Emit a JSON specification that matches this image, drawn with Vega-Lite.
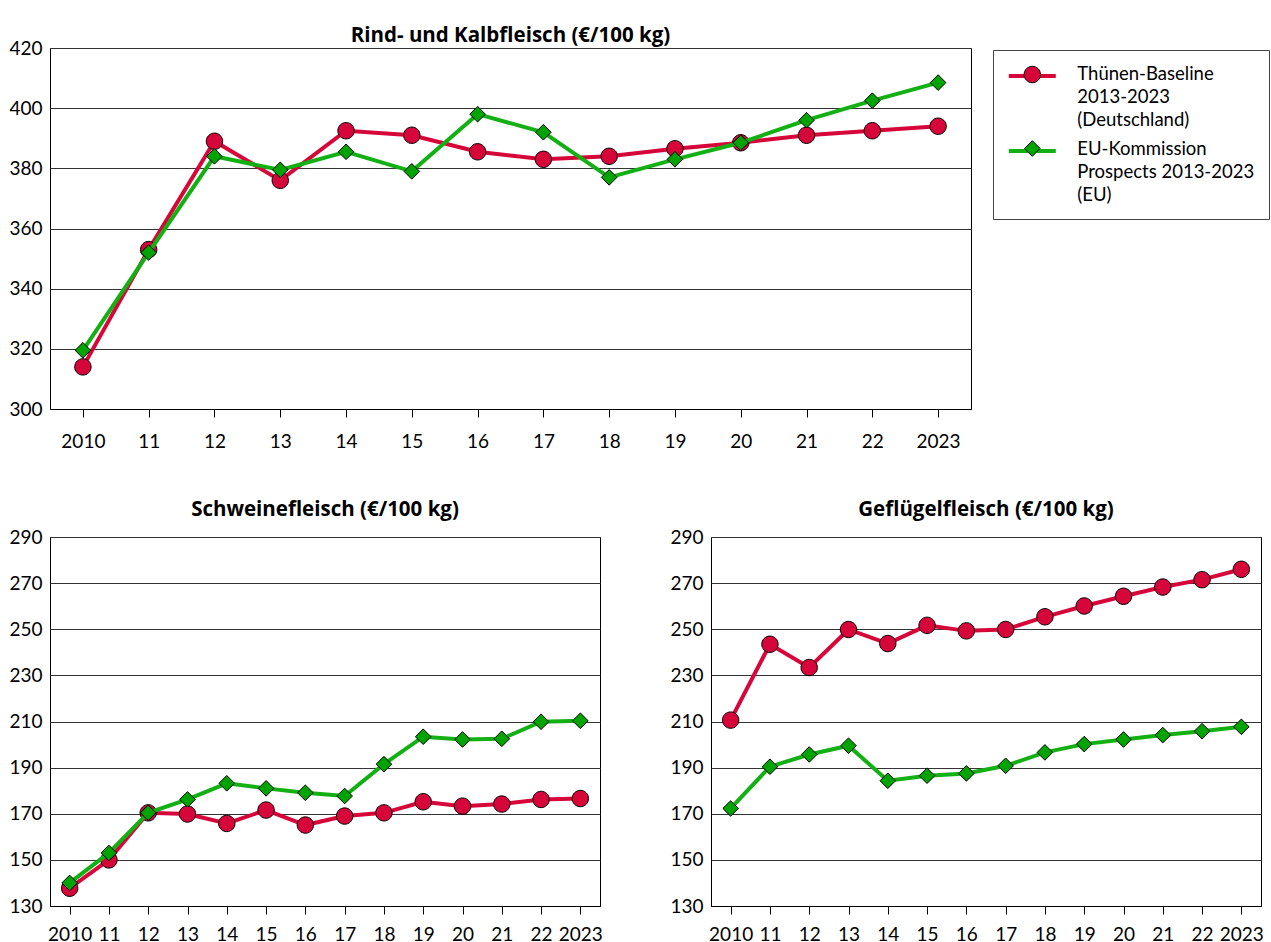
{
  "$schema": "https://vega.github.io/schema/vega-lite/v6.json",
  "background": "white",
  "padding": {"left": 8, "top": 25, "right": 2, "bottom": 0},
  "spacing": 47,
  "resolve": {"scale": {"color": "independent", "shape": "independent", "fill": "independent"}, "legend": {"color": "independent", "shape": "independent", "fill": "independent"}},
  "datasets": {
    "meat": [
      {"c": "Rind", "s": "Thünen", "y": 2010, "v": 314}, {"c": "Rind", "s": "Thünen", "y": 2011, "v": 353}, {"c": "Rind", "s": "Thünen", "y": 2012, "v": 389}, {"c": "Rind", "s": "Thünen", "y": 2013, "v": 376}, {"c": "Rind", "s": "Thünen", "y": 2014, "v": 392.5}, {"c": "Rind", "s": "Thünen", "y": 2015, "v": 391}, {"c": "Rind", "s": "Thünen", "y": 2016, "v": 385.5}, {"c": "Rind", "s": "Thünen", "y": 2017, "v": 383}, {"c": "Rind", "s": "Thünen", "y": 2018, "v": 384}, {"c": "Rind", "s": "Thünen", "y": 2019, "v": 386.5}, {"c": "Rind", "s": "Thünen", "y": 2020, "v": 388.5}, {"c": "Rind", "s": "Thünen", "y": 2021, "v": 391}, {"c": "Rind", "s": "Thünen", "y": 2022, "v": 392.5}, {"c": "Rind", "s": "Thünen", "y": 2023, "v": 394},
      {"c": "Rind", "s": "EU", "y": 2010, "v": 319.5}, {"c": "Rind", "s": "EU", "y": 2011, "v": 352}, {"c": "Rind", "s": "EU", "y": 2012, "v": 384}, {"c": "Rind", "s": "EU", "y": 2013, "v": 379.5}, {"c": "Rind", "s": "EU", "y": 2014, "v": 385.5}, {"c": "Rind", "s": "EU", "y": 2015, "v": 379}, {"c": "Rind", "s": "EU", "y": 2016, "v": 398}, {"c": "Rind", "s": "EU", "y": 2017, "v": 392}, {"c": "Rind", "s": "EU", "y": 2018, "v": 377}, {"c": "Rind", "s": "EU", "y": 2019, "v": 383}, {"c": "Rind", "s": "EU", "y": 2020, "v": 388.5}, {"c": "Rind", "s": "EU", "y": 2021, "v": 396}, {"c": "Rind", "s": "EU", "y": 2022, "v": 402.5}, {"c": "Rind", "s": "EU", "y": 2023, "v": 408.5},
      {"c": "Schwein", "s": "Thünen", "y": 2010, "v": 137.7}, {"c": "Schwein", "s": "Thünen", "y": 2011, "v": 150}, {"c": "Schwein", "s": "Thünen", "y": 2012, "v": 170.4}, {"c": "Schwein", "s": "Thünen", "y": 2013, "v": 169.9}, {"c": "Schwein", "s": "Thünen", "y": 2014, "v": 165.8}, {"c": "Schwein", "s": "Thünen", "y": 2015, "v": 171.6}, {"c": "Schwein", "s": "Thünen", "y": 2016, "v": 165.1}, {"c": "Schwein", "s": "Thünen", "y": 2017, "v": 169}, {"c": "Schwein", "s": "Thünen", "y": 2018, "v": 170.4}, {"c": "Schwein", "s": "Thünen", "y": 2019, "v": 175.2}, {"c": "Schwein", "s": "Thünen", "y": 2020, "v": 173.3}, {"c": "Schwein", "s": "Thünen", "y": 2021, "v": 174.2}, {"c": "Schwein", "s": "Thünen", "y": 2022, "v": 176.2}, {"c": "Schwein", "s": "Thünen", "y": 2023, "v": 176.6},
      {"c": "Schwein", "s": "EU", "y": 2010, "v": 140}, {"c": "Schwein", "s": "EU", "y": 2011, "v": 153}, {"c": "Schwein", "s": "EU", "y": 2012, "v": 170.4}, {"c": "Schwein", "s": "EU", "y": 2013, "v": 176.2}, {"c": "Schwein", "s": "EU", "y": 2014, "v": 183.2}, {"c": "Schwein", "s": "EU", "y": 2015, "v": 181}, {"c": "Schwein", "s": "EU", "y": 2016, "v": 179.1}, {"c": "Schwein", "s": "EU", "y": 2017, "v": 177.7}, {"c": "Schwein", "s": "EU", "y": 2018, "v": 191.5}, {"c": "Schwein", "s": "EU", "y": 2019, "v": 203.4}, {"c": "Schwein", "s": "EU", "y": 2020, "v": 202.2}, {"c": "Schwein", "s": "EU", "y": 2021, "v": 202.5}, {"c": "Schwein", "s": "EU", "y": 2022, "v": 209.9}, {"c": "Schwein", "s": "EU", "y": 2023, "v": 210.3},
      {"c": "Geflügel", "s": "Thünen", "y": 2010, "v": 210.6}, {"c": "Geflügel", "s": "Thünen", "y": 2011, "v": 243.5}, {"c": "Geflügel", "s": "Thünen", "y": 2012, "v": 233.4}, {"c": "Geflügel", "s": "Thünen", "y": 2013, "v": 249.9}, {"c": "Geflügel", "s": "Thünen", "y": 2014, "v": 243.8}, {"c": "Geflügel", "s": "Thünen", "y": 2015, "v": 251.7}, {"c": "Geflügel", "s": "Thünen", "y": 2016, "v": 249.3}, {"c": "Geflügel", "s": "Thünen", "y": 2017, "v": 249.9}, {"c": "Geflügel", "s": "Thünen", "y": 2018, "v": 255.4}, {"c": "Geflügel", "s": "Thünen", "y": 2019, "v": 260.1}, {"c": "Geflügel", "s": "Thünen", "y": 2020, "v": 264.3}, {"c": "Geflügel", "s": "Thünen", "y": 2021, "v": 268.3}, {"c": "Geflügel", "s": "Thünen", "y": 2022, "v": 271.5}, {"c": "Geflügel", "s": "Thünen", "y": 2023, "v": 276},
      {"c": "Geflügel", "s": "EU", "y": 2010, "v": 172.3}, {"c": "Geflügel", "s": "EU", "y": 2011, "v": 190.4}, {"c": "Geflügel", "s": "EU", "y": 2012, "v": 195.7}, {"c": "Geflügel", "s": "EU", "y": 2013, "v": 199.5}, {"c": "Geflügel", "s": "EU", "y": 2014, "v": 184.3}, {"c": "Geflügel", "s": "EU", "y": 2015, "v": 186.5}, {"c": "Geflügel", "s": "EU", "y": 2016, "v": 187.5}, {"c": "Geflügel", "s": "EU", "y": 2017, "v": 190.8}, {"c": "Geflügel", "s": "EU", "y": 2018, "v": 196.6}, {"c": "Geflügel", "s": "EU", "y": 2019, "v": 200.2}, {"c": "Geflügel", "s": "EU", "y": 2020, "v": 202.2}, {"c": "Geflügel", "s": "EU", "y": 2021, "v": 204.1}, {"c": "Geflügel", "s": "EU", "y": 2022, "v": 205.8}, {"c": "Geflügel", "s": "EU", "y": 2023, "v": 207.7}
    ]
  },
  "data": {"name": "meat"},
  "vconcat": [
    {
      "width": 921,
      "height": 361,
      "title": {"text": "Rind- und Kalbfleisch (€/100 kg)", "offset": -7},
      "transform": [{"filter": "datum.c == 'Rind'"}],
      "encoding": {
        "x": {"field": "y", "type": "ordinal", "scale": {"type": "point", "padding": 0.5}, "axis": {"title": null, "labelPadding": 15, "labelExpr": "(datum.value == 2010 || datum.value == 2023) ? datum.label : substring(datum.label, 2)"}},
        "y": {"field": "v", "type": "quantitative", "scale": {"domain": [300, 420], "nice": false, "zero": false}, "axis": {"title": null, "values": [300, 320, 340, 360, 380, 400, 420]}}
      },
      "layer": [
        {
          "transform": [{"filter": "datum.s == 'Thünen'"}],
          "mark": {"type": "line", "strokeWidth": 4},
          "encoding": {"color": {"field": "s", "type": "nominal", "scale": {"domain": ["Thünen", "EU"], "range": ["#D7063A", "#13B013"]},
            "legend": {"orient": "none", "legendX": 943, "legendY": 2, "direction": "vertical", "title": null, "symbolType": "M-2.35,0L2.35,0", "symbolSize": 400, "symbolStrokeWidth": 4, "symbolOffset": 13.3, "labelFontSize": 18.5, "labelColor": "black", "labelLimit": 400, "labelOffset": 33, "rowPadding": 9, "padding": 14, "strokeColor": "#444", "fillColor": "white", "labelBaseline": "top",
              "labelExpr": "datum.value == 'Thünen' ? ['Thünen-Baseline', '2013-2023', '(Deutschland)'] : ['EU-Kommission', 'Prospects 2013-2023', '(EU)']",
              "encode": {"labels": {"update": {"lineHeight": {"value": 23}, "dy": {"value": -11}}}}}}}
        },
        {
          "transform": [{"filter": "datum.s == 'Thünen'"}],
          "mark": {"type": "point", "filled": true, "stroke": "black", "strokeWidth": 1, "size": 400, "opacity": 1},
          "encoding": {
            "fill": {"field": "s", "type": "nominal", "sort": "descending", "scale": {"range": ["#D7063A", "#00A300"]},
              "legend": {"orient": "none", "legendX": 943, "legendY": 2, "direction": "vertical", "title": null, "symbolSize": 400, "symbolStrokeWidth": 1, "symbolOffset": 14.8, "labelFontSize": 1, "labelExpr": "''", "labelOffset": 0, "rowPadding": 53, "padding": 14}},
            "shape": {"field": "s", "type": "nominal", "sort": "descending", "scale": {"range": ["M0.82,0A0.82,0.82,0,1,1,-0.82,0A0.82,0.82,0,1,1,0.82,0Z", "M0,-0.78L0.78,0L0,0.78L-0.78,0Z"]},
              "legend": {"orient": "none", "legendX": 943, "legendY": 2, "direction": "vertical", "title": null, "symbolSize": 400, "symbolStrokeWidth": 1, "symbolOffset": 14.8, "labelFontSize": 1, "labelExpr": "''", "labelOffset": 0, "rowPadding": 53, "padding": 14}}
          }
        },
        {
          "transform": [{"filter": "datum.s == 'EU'"}],
          "mark": {"type": "line", "strokeWidth": 4},
          "encoding": {"color": {"field": "s", "type": "nominal", "scale": {"domain": ["Thünen", "EU"], "range": ["#D7063A", "#13B013"]},
            "legend": {"orient": "none", "legendX": 943, "legendY": 2, "direction": "vertical", "title": null, "symbolType": "M-2.35,0L2.35,0", "symbolSize": 400, "symbolStrokeWidth": 4, "symbolOffset": 13.3, "labelFontSize": 18.5, "labelColor": "black", "labelLimit": 400, "labelOffset": 33, "rowPadding": 9, "padding": 14, "strokeColor": "#444", "fillColor": "white", "labelBaseline": "top",
              "labelExpr": "datum.value == 'Thünen' ? ['Thünen-Baseline', '2013-2023', '(Deutschland)'] : ['EU-Kommission', 'Prospects 2013-2023', '(EU)']",
              "encode": {"labels": {"update": {"lineHeight": {"value": 23}, "dy": {"value": -11}}}}}}}
        },
        {
          "transform": [{"filter": "datum.s == 'EU'"}],
          "mark": {"type": "point", "filled": true, "stroke": "black", "strokeWidth": 1, "size": 400, "opacity": 1},
          "encoding": {
            "fill": {"field": "s", "type": "nominal", "sort": "descending", "scale": {"range": ["#D7063A", "#00A300"]},
              "legend": {"orient": "none", "legendX": 943, "legendY": 2, "direction": "vertical", "title": null, "symbolSize": 400, "symbolStrokeWidth": 1, "symbolOffset": 14.8, "labelFontSize": 1, "labelExpr": "''", "labelOffset": 0, "rowPadding": 53, "padding": 14}},
            "shape": {"field": "s", "type": "nominal", "sort": "descending", "scale": {"range": ["M0.82,0A0.82,0.82,0,1,1,-0.82,0A0.82,0.82,0,1,1,0.82,0Z", "M0,-0.78L0.78,0L0,0.78L-0.78,0Z"]},
              "legend": {"orient": "none", "legendX": 943, "legendY": 2, "direction": "vertical", "title": null, "symbolSize": 400, "symbolStrokeWidth": 1, "symbolOffset": 14.8, "labelFontSize": 1, "labelExpr": "''", "labelOffset": 0, "rowPadding": 53, "padding": 14}}
          }
        }
      ]
    },
    {
      "spacing": 66,
      "hconcat": [
        {
          "width": 550,
          "height": 369,
          "title": {"text": "Schweinefleisch (€/100 kg)", "offset": 8},
          "transform": [{"filter": "datum.c == 'Schwein'"}],
          "encoding": {
            "x": {"field": "y", "type": "ordinal", "scale": {"type": "point", "padding": 0.5}, "axis": {"title": null, "labelExpr": "(datum.value == 2010 || datum.value == 2023) ? datum.label : substring(datum.label, 2)"}},
            "y": {"field": "v", "type": "quantitative", "scale": {"domain": [130, 290], "nice": false, "zero": false}, "axis": {"title": null, "values": [130, 150, 170, 190, 210, 230, 250, 270, 290]}}
          },
          "layer": [
            {"transform": [{"filter": "datum.s == 'Thünen'"}], "mark": {"type": "line", "strokeWidth": 4, "color": "#D7063A"}},
            {"transform": [{"filter": "datum.s == 'Thünen'"}], "mark": {"type": "point", "shape": "M0.82,0A0.82,0.82,0,1,1,-0.82,0A0.82,0.82,0,1,1,0.82,0Z", "filled": true, "fill": "#D7063A", "stroke": "black", "strokeWidth": 1, "size": 400, "opacity": 1}},
            {"transform": [{"filter": "datum.s == 'EU'"}], "mark": {"type": "line", "strokeWidth": 4, "color": "#13B013"}},
            {"transform": [{"filter": "datum.s == 'EU'"}], "mark": {"type": "point", "shape": "M0,-0.78L0.78,0L0,0.78L-0.78,0Z", "filled": true, "fill": "#00A300", "stroke": "black", "strokeWidth": 1, "size": 400, "opacity": 1}}
          ]
        },
        {
          "width": 550,
          "height": 369,
          "title": {"text": "Geflügelfleisch (€/100 kg)", "offset": 8},
          "transform": [{"filter": "datum.c == 'Geflügel'"}],
          "encoding": {
            "x": {"field": "y", "type": "ordinal", "scale": {"type": "point", "padding": 0.5}, "axis": {"title": null, "labelExpr": "(datum.value == 2010 || datum.value == 2023) ? datum.label : substring(datum.label, 2)"}},
            "y": {"field": "v", "type": "quantitative", "scale": {"domain": [130, 290], "nice": false, "zero": false}, "axis": {"title": null, "values": [130, 150, 170, 190, 210, 230, 250, 270, 290]}}
          },
          "layer": [
            {"transform": [{"filter": "datum.s == 'Thünen'"}], "mark": {"type": "line", "strokeWidth": 4, "color": "#D7063A"}},
            {"transform": [{"filter": "datum.s == 'Thünen'"}], "mark": {"type": "point", "shape": "M0.82,0A0.82,0.82,0,1,1,-0.82,0A0.82,0.82,0,1,1,0.82,0Z", "filled": true, "fill": "#D7063A", "stroke": "black", "strokeWidth": 1, "size": 400, "opacity": 1}},
            {"transform": [{"filter": "datum.s == 'EU'"}], "mark": {"type": "line", "strokeWidth": 4, "color": "#13B013"}},
            {"transform": [{"filter": "datum.s == 'EU'"}], "mark": {"type": "point", "shape": "M0,-0.78L0.78,0L0,0.78L-0.78,0Z", "filled": true, "fill": "#00A300", "stroke": "black", "strokeWidth": 1, "size": 400, "opacity": 1}}
          ]
        }
      ]
    }
  ],
  "config": {
    "font": "Lato",
    "view": {"stroke": "black", "strokeWidth": 1},
    "title": {"font": "Open Sans", "fontSize": 20.5, "fontWeight": "bold", "color": "black", "anchor": "middle"},
    "legend": {"labelFont": "Lato"},
    "axis": {"labelFont": "Lato", "labelFontSize": 19, "labelColor": "black", "labelOverlap": false},
    "axisY": {"ticks": false, "domain": false, "labelPadding": 8, "grid": true, "gridColor": "#333333", "gridWidth": 1, "gridOpacity": 1},
    "axisX": {"ticks": true, "tickSize": 8, "tickColor": "black", "tickWidth": 1, "domain": true, "domainColor": "black", "domainWidth": 1, "grid": false, "labelAngle": 0, "labelPadding": 11}
  }
}
